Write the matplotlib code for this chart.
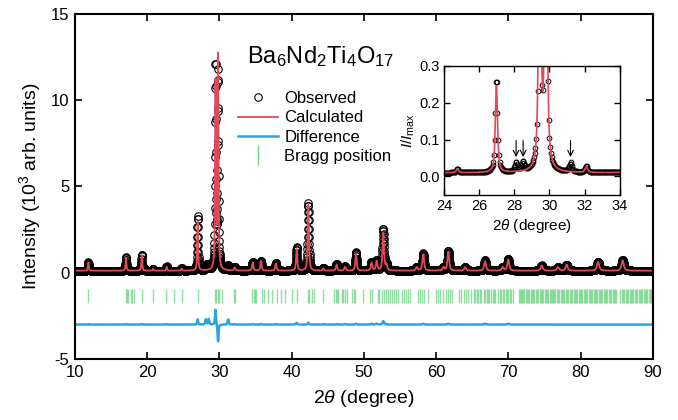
import numpy as np
import matplotlib
matplotlib.use("Agg")
import matplotlib.pyplot as plt
from matplotlib.lines import Line2D

plt.rcParams['font.family'] = ['Liberation Sans', 'DejaVu Sans']
plt.rcParams['mathtext.fontset'] = 'custom'
plt.rcParams['mathtext.rm'] = 'Liberation Sans'
plt.rcParams['mathtext.it'] = 'Liberation Sans:italic'
plt.rcParams['axes.unicode_minus'] = False

# peak table (intensity in 10^3 counts above background)
peak_pos = [11.84, 17.06, 19.25, 20.80, 22.68, 24.76, 26.98, 28.10, 28.50, 29.45,
            29.80, 31.20, 32.10, 34.60, 35.74, 37.80, 40.68, 42.30, 44.37, 46.20,
            47.37, 48.90, 51.06, 51.75, 52.67, 53.10, 57.30, 58.20, 61.00, 61.67,
            63.98, 66.75, 69.20, 69.97, 74.60, 76.85, 78.05, 82.40, 85.80]
obs_height = [0.50, 0.78, 0.95, 0.10, 0.25, 0.13, 3.15, 0.30, 0.32, 11.8,
              11.3, 0.30, 0.20, 0.50, 0.58, 0.45, 1.35, 3.90, 0.15, 0.38,
              0.25, 1.05, 0.50, 0.60, 2.40, 0.35, 0.20, 1.00, 0.20, 1.15,
              0.20, 0.60, 0.20, 0.70, 0.30, 0.20, 0.35, 0.50, 0.60]
calc_height = [0.47, 0.75, 0.92, 0.10, 0.22, 0.13, 2.85, 0.00, 0.00, 10.9,
               12.3, 0.00, 0.18, 0.48, 0.55, 0.42, 1.25, 3.80, 0.13, 0.35,
               0.22, 1.00, 0.45, 0.55, 2.20, 0.33, 0.20, 0.95, 0.20, 1.10,
               0.20, 0.55, 0.20, 0.65, 0.30, 0.20, 0.35, 0.50, 0.60]
peak_fwhm = [0.15, 0.15, 0.15, 0.15, 0.15, 0.15, 0.15, 0.18, 0.18, 0.15,
             0.15, 0.18, 0.18, 0.20, 0.20, 0.20, 0.20, 0.20, 0.20, 0.22,
             0.22, 0.22, 0.24, 0.24, 0.24, 0.24, 0.28, 0.28, 0.28, 0.28,
             0.28, 0.30, 0.30, 0.30, 0.34, 0.34, 0.34, 0.38, 0.38]
background = 0.12
diff_offset = -3.0

bragg = [11.85, 17.01, 17.20, 17.38, 17.75, 17.94, 18.12, 19.23, 20.80, 22.64,
         23.75, 24.76, 26.98, 29.38, 29.56, 29.75, 29.93, 30.39, 31.96, 32.15,
         34.54, 34.73, 34.91, 35.10, 35.84, 36.11, 36.67, 37.31, 37.91, 38.51,
         39.06, 39.99, 40.68, 42.20, 42.39, 42.85, 43.03, 44.28, 45.89, 46.08,
         46.26, 46.45, 46.91, 47.09, 47.37, 47.60, 48.38, 48.57, 48.75, 49.91,
         50.83, 51.06, 51.89, 52.07, 52.54, 52.81, 53.09, 53.37, 53.64, 53.92,
         54.20, 54.47, 54.75, 55.21, 55.49, 55.77, 56.04, 56.32, 57.43, 57.70,
         57.98, 58.26, 58.81, 59.92, 60.19, 60.47, 60.98, 61.30, 61.58, 61.86,
         62.13, 63.19, 63.42, 63.79, 64.07, 64.44, 64.81, 65.18, 65.40, 65.60,
         65.80, 66.00, 66.15, 66.60, 66.80, 67.00, 67.20, 67.35, 67.55, 67.80,
         68.00, 68.20, 68.60, 68.80, 69.00, 69.20, 69.40, 69.60, 69.80, 70.00,
         70.20, 70.40, 70.60, 71.40, 71.55, 71.70, 71.90, 72.05, 72.20, 72.40,
         72.55, 72.70, 72.90, 73.05, 73.20, 73.40, 73.60, 73.75, 73.90, 74.10,
         74.30, 74.45, 74.60, 74.80, 75.00, 75.15, 75.30, 75.50, 75.70, 75.85,
         76.00, 76.20, 76.35, 76.50, 76.70, 76.90, 77.05, 77.20, 77.40, 77.60,
         77.75, 77.90, 78.10, 78.30, 78.45, 78.60, 78.80, 79.00, 79.20, 79.35,
         79.50, 79.70, 79.90, 80.05, 80.20, 80.40, 80.60, 80.75, 80.90, 81.10,
         81.30, 81.45, 81.60, 81.80, 82.00, 82.15, 82.30, 82.50, 82.70, 82.85,
         83.00, 83.20, 83.40, 83.55, 83.70, 83.90, 84.10, 84.25, 84.40, 84.60,
         84.80, 84.95, 85.50, 85.70, 85.90, 86.05, 86.20, 86.40, 86.60, 86.75,
         86.90, 87.10, 87.30, 87.45, 87.60, 87.80, 88.00, 88.15, 88.30, 88.50,
         88.70, 88.85, 89.00, 89.20, 89.40, 89.55, 89.70, 89.90]

arrow_pos = [28.1, 28.5, 31.2]

c_red = '#e4475a'
c_blue = '#27a6df'
c_green = '#6dd383'


def pv(x, x0, w, eta=0.7):
    t = ((x - x0) / (w / 2)) ** 2
    return eta / (1 + t) + (1 - eta) * np.exp(-np.log(2) * t)


tt = np.arange(10, 90.0001, 0.02)
obs = background + sum(h * pv(tt, p, w) for p, h, w in zip(peak_pos, obs_height, peak_fwhm))
calc = background + sum(h * pv(tt, p, w) for p, h, w in zip(peak_pos, calc_height, peak_fwhm))
diff = obs - calc + diff_offset

fig = plt.figure(figsize=(6.78, 4.2), dpi=100)
ax = fig.add_axes([0.1106, 0.145, 0.8525, 0.822])

ax.plot(tt, obs, 'o', ms=5.4, mfc='none', mec='black', mew=0.8)
ax.plot(tt, calc, '-', color=c_red, lw=1.3)
ax.plot(tt, diff, '-', color=c_blue, lw=1.8)
ax.vlines(bragg, -1.75, -0.95, color=c_green, lw=1, alpha=0.75)

ax.set_xlim(10, 90)
ax.set_ylim(-5, 15)
ax.set_xticks(range(10, 91, 10))
ax.set_yticks([-5, 0, 5, 10, 15])
ax.tick_params(direction='in', top=True, right=True, length=5, width=1.2,
               labelsize=12, pad=4)
for s in ax.spines.values():
    s.set_linewidth(1.5)
ax.set_xlabel('2$\\theta$ (degree)', fontsize=14, labelpad=6)
ax.set_ylabel('Intensity (10$^3$ arb. units)', fontsize=14, labelpad=6)

handles = [Line2D([], [], ls='none', marker='o', ms=5.4, mfc='none', mec='black', mew=0.8),
           Line2D([], [], color=c_red, lw=1.3),
           Line2D([], [], color=c_blue, lw=1.8),
           Line2D([], [], ls='none', marker='|', ms=14, mec=c_green, mew=1)]
ax.legend(handles, ['Observed', 'Calculated', 'Difference', 'Bragg position'],
          loc='upper left', bbox_to_anchor=(230 / 678, 1 - 83 / 420),
          bbox_transform=fig.transFigure, frameon=False, fontsize=12,
          handlelength=2.4, handletextpad=0.35, labelspacing=0.25, borderpad=0)

fig.text(247 / 678, 1 - 63 / 420, 'Ba$_6$Nd$_2$Ti$_4$O$_{17}$', fontsize=17,
         va='baseline')

# inset: zoom on the weak reflections
ins = fig.add_axes([0.655, 0.536, 0.259, 0.307])
imax = obs.max()
ins.plot(tt[::2], obs[::2] / imax, 'o', ms=3.4, mfc='none', mec='black', mew=0.7)
ins.plot(tt, calc / imax, '-', color=c_red, lw=1.2)
for a in arrow_pos:
    ins.annotate('', xy=(a, 0.045), xytext=(a, 0.105),
                 arrowprops=dict(arrowstyle='->', color='black', lw=0.8))
ins.set_xlim(24, 34)
ins.set_ylim(-0.05, 0.3)
ins.set_xticks(range(24, 35, 2))
ins.set_yticks([0.0, 0.1, 0.2, 0.3])
ins.set_yticklabels(['0.0', '0.1', '0.2', '0.3'])
ins.tick_params(direction='in', top=True, right=True, length=4, width=1,
                labelsize=10.5, pad=3)
for s in ins.spines.values():
    s.set_linewidth(1)
ins.set_xlabel('2$\\theta$ (degree)', fontsize=11, labelpad=3)
ins.set_ylabel('$I$/$I_{\\rm max}$', fontsize=11, labelpad=2)

fig.savefig('out.png', dpi=100)
